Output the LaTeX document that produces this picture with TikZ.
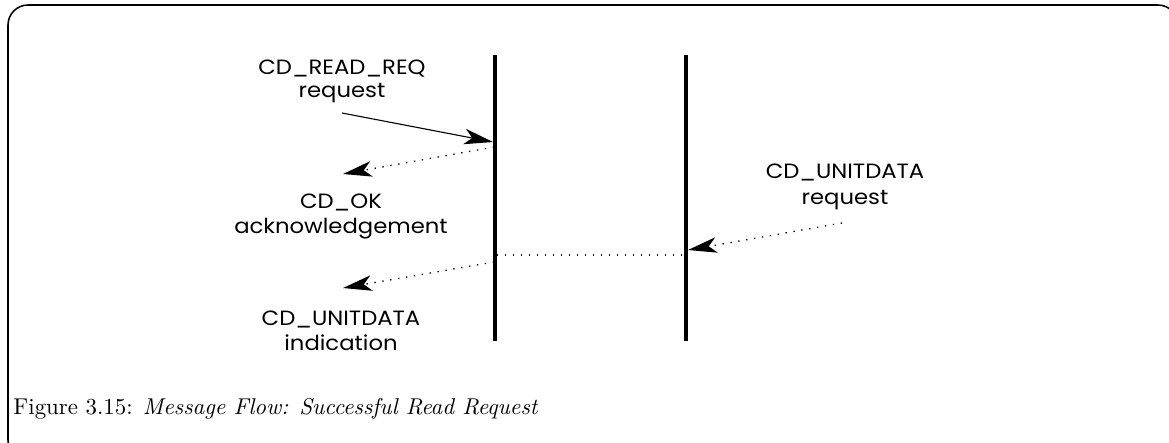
\documentclass[tikz,border=0pt]{standalone}
\usepackage{fontspec}
\newfontfamily\lblfont[FakeStretch=1.1]{Poppins}
\usetikzlibrary{arrows.meta}
\begin{document}
\begin{tikzpicture}[x=0.45pt,y=-0.45pt,
  lifeline/.style={line width=1.8pt},
  msg/.style={line width=0.5pt,-{Stealth[length=13pt,width=7pt,inset=3.5pt]}},
  dmsg/.style={line width=0.6pt,dash pattern=on 0.6pt off 3pt,-{Stealth[length=13pt,width=7pt,inset=3.5pt]}},
  dline/.style={line width=0.6pt,dash pattern=on 0.6pt off 3pt},
  lbl/.style={font=\lblfont\fontsize{9.3}{11}\selectfont,anchor=base,inner sep=0pt}]
\useasboundingbox (0,0) rectangle (1169,442);
\draw[line width=0.7pt,rounded corners=9pt] (8,5) rectangle (1178,460);
% lifelines
\coordinate (Atop) at (495,55);
\coordinate (Abot) at (495,341);
\coordinate (Btop) at (686,55);
\coordinate (Bbot) at (686,341);
\draw[lifeline] (Atop) -- (Abot);
\draw[lifeline] (Btop) -- (Bbot);
% message endpoints
\coordinate (m1s) at (342,113);
\coordinate (m1e) at (493,142);
\coordinate (m2s) at (494,147);
\coordinate (m2e) at (343,174);
\coordinate (m3s) at (494,262);
\coordinate (m3e) at (343,288);
\coordinate (m4s) at (842,223);
\coordinate (m4e) at (688,250);
\coordinate (h1) at (497,255);
\coordinate (h2) at (684,255);
\draw[msg] (m1s) -- (m1e);
\draw[dmsg] (m2s) -- (m2e);
\draw[dmsg] (m3s) -- (m3e);
\draw[dmsg] (m4s) -- (m4e);
\draw[dline] (h1) -- (h2);
% labels
\node[lbl] (t1a) at (342,74) {CD\_READ\_REQ};
\node[lbl] (t1b) at (342,97) {request};
\node[lbl] (t2a) at (341,208) {CD\_OK};
\node[lbl] (t2b) at (341,233) {acknowledgement};
\node[lbl] (t3a) at (341,325) {CD\_UNITDATA};
\node[lbl] (t3b) at (341,350) {indication};
\node[lbl] (t4a) at (845,178) {CD\_UNITDATA};
\node[lbl] (t4b) at (845,204) {request};
\node[anchor=base west,inner sep=0pt,font=\fontsize{10}{12}\selectfont] (cap) at (13,414) {\scalebox{1.03}{Figure 3.15: \textit{Message Flow: Successful Read Request}}};
\end{tikzpicture}
\end{document}
